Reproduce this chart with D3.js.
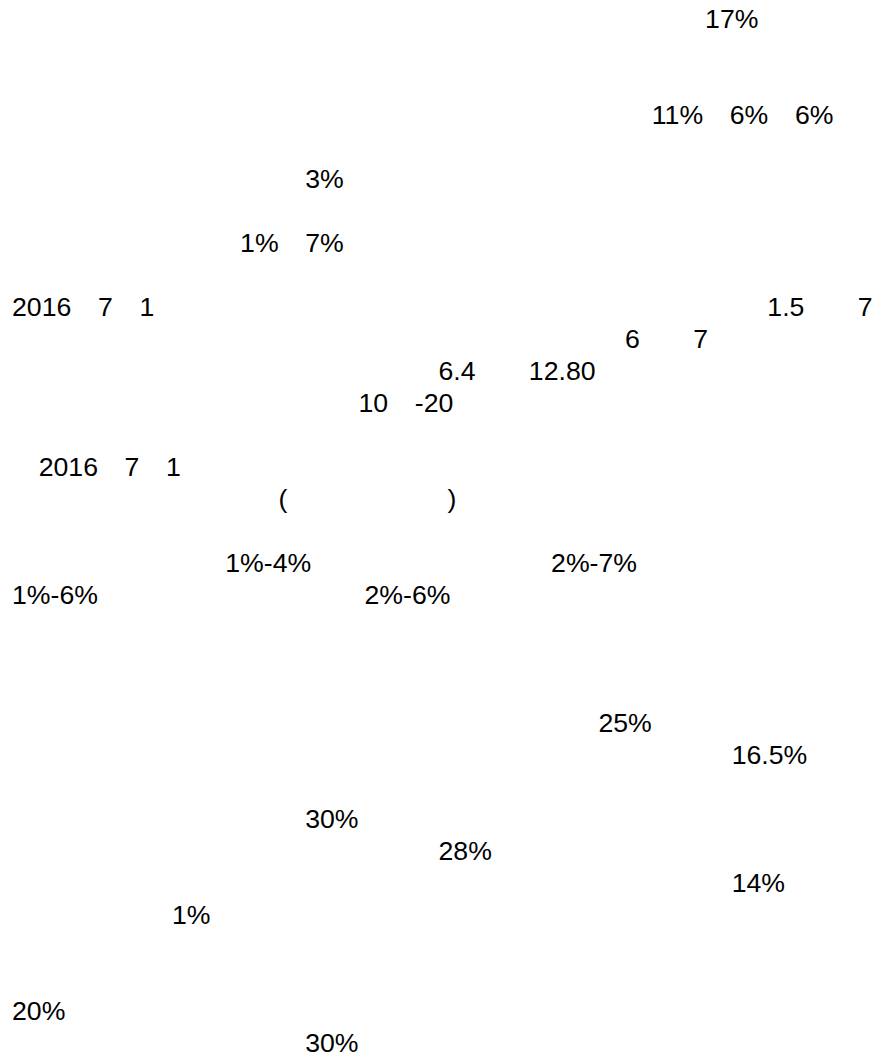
<!DOCTYPE html>
<html>
<head>
<meta charset="utf-8">
<script src="https://cdnjs.cloudflare.com/ajax/libs/d3/7.8.5/d3.min.js"></script>
<style>
  html, body { margin: 0; padding: 0; background: #fff; }
  text { white-space: pre; }
</style>
</head>
<body>
<svg id="page"></svg>
<script>
// each "□" stands for a glyph that the source page did not render (full-width, 1em)
const GAP = "□";

// text lines of the page, top to bottom, one entry per line (blank = nothing visible)
const linesTop = [
    "□□□□□□□□□□□□□□□□□□□□□□□□□□17%",
    "",
    "",
    "□□□□□□□□□□□□□□□□□□□□□□□□11%□6%□6%",
    "",
    "□□□□□□□□□□□3%",
    "",
    "□□□□□□□□  1%□7%",
    "",
    "2016□7□1□□□□□□□□□□□□□□□□□□□□□□□1.5□□7",
    "□□□□□□□□□□□□□□□□□□□□□□□6□□7",
    "□□□□□□□□□□□□□□□□6.4□□12.80",
    "□□□□□□□□□□□□□10□-20",
    ""
];
const linesMiddle = [
    "□2016□7□1",
    "□□□□□□□□□□(□□□□□□)",
    "",
    "□□□□□□□□1%-4%□□□□□□□□□2%-7%",
    "1%-6%□□□□□□□□□□2%-6%",
    "",
    "",
    ""
];
const linesBottom = [
    "□□□□□□□□□□□□□□□□□□□□□□25%",
    "□□□□□□□□□□□□□□□□□□□□□□□□□□□16.5%",
    "",
    "□□□□□□□□□□□30%",
    "□□□□□□□□□□□□□□□□28%",
    "□□□□□□□□□□□□□□□□□□□□□□□□□□□14%",
    "□□□□□□1%",
    "",
    "",
    "20%",
    "□□□□□□□□□□□30%"
];

const lines = linesTop.concat(linesMiddle, linesBottom);

const w = 887;
const h = 1061;
const fontSize = 26.667;   // 20pt
const lineHeight = 32;
const left = 12;
const firstBaseline = 28.3;

const svg = d3.select('#page')
    .attr('width', w)
    .attr('height', h)
    .style('display', 'block')
    .style('background', '#fff');

// line number -> baseline
const yScale = d3.scaleLinear()
    .domain([0, lines.length - 1])
    .range([firstBaseline, firstBaseline + (lines.length - 1) * lineHeight]);

svg.selectAll('text.line')
    .data(lines)
    .enter()
    .append('text')
    .attr('class', 'line')
    .attr('x', left)
    .attr('y', (d, i) => yScale(i))
    .attr('font-family', '"Liberation Sans", Arial, "Noto Sans CJK SC", sans-serif')
    .attr('font-size', fontSize)
    .attr('fill', '#000')
    .text(d => d.split(GAP).join('\u3000'));
</script>
</body>
</html>
